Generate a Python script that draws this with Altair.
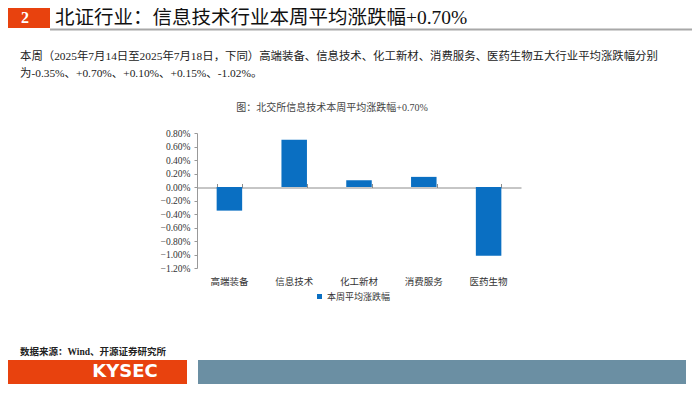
import altair as alt
import pandas as pd

# ---- data ----
categories = ["高端装备", "信息技术", "化工新材", "消费服务", "医药生物"]
values = [-0.35, 0.70, 0.10, 0.15, -1.02]
series_name = "本周平均涨跌幅"
y_ticks = [0.8, 0.6, 0.4, 0.2, 0.0, -0.2, -0.4, -0.6, -0.8, -1.0, -1.2]

header_num = "2"
header_title = "北证行业：信息技术行业本周平均涨跌幅+0.70%"
para_1 = "本周（2025年7月14日至2025年7月18日，下同）高端装备、信息技术、化工新材、消费服务、医药生物五大行业平均涨跌幅分别"
para_2 = "为-0.35%、+0.70%、+0.10%、+0.15%、-1.02%。"
chart_title = "图：北交所信息技术本周平均涨跌幅+0.70%"
source_text = "数据来源：Wind、开源证券研究所"
footer_text = "KYSEC"

df = pd.DataFrame({"cat": categories, "val": values, "series": [series_name] * len(categories)})

SERIF = "Liberation Serif, Noto Sans CJK SC"
CJK = "Noto Sans CJK SC"
BLUE = "#0A6FC2"
ORANGE = "#E8420E"

xscale = alt.Scale(domain=categories, paddingInner=0.606, paddingOuter=0.303)
yscale = alt.Scale(domain=[-1.2, 0.8], nice=False, zero=False)

bars = alt.Chart(df).mark_bar(size=25.5).encode(
    x=alt.X("cat:N", scale=xscale, sort=categories,
            axis=alt.Axis(title=None, orient="bottom", domain=False, ticks=False,
                          labelAngle=0, labelPadding=8, labelFont=CJK, labelFontSize=9.5,
                          labelColor="#333333")),
    y=alt.Y("val:Q", scale=yscale,
            axis=alt.Axis(title=None, values=y_ticks, grid=False, tickSize=3,
                          tickColor="#999999", domain=True, domainColor="#999999", domainWidth=1,
                          labelOverlap=False, labelFlush=False, labelBound=False,
                          labelExpr="format(datum.value, '.2f') + '%'",
                          labelFont="Liberation Serif", labelFontSize=9.5,
                          labelColor="#333333", labelPadding=4)),
    color=alt.Color("series:N", scale=alt.Scale(domain=[series_name], range=[BLUE]),
                    legend=alt.Legend(title=None, orient="none", legendX=118, legendY=159,
                                      symbolType="square", symbolSize=25, symbolStrokeWidth=0,
                                      labelFont=CJK, labelFontSize=9, labelColor="#333333",
                                      labelOffset=3)),
)

zero_axis = alt.Chart(df).mark_point(opacity=0).encode(
    x=alt.X("cat:N", scale=xscale, sort=categories,
            axis=alt.Axis(title=None, orient="top", offset=-54.5, labels=False,
                          tickBand="extent", tickSize=4, tickColor="#8C8C8C",
                          domainColor="#8C8C8C", domainWidth=1)),
    y=alt.value(0),
)

one = pd.DataFrame({"a": [0]})


def rect(x, x2, y, y2, color):
    return alt.Chart(one).mark_rect(color=color).encode(
        x=alt.value(x), x2=alt.value(x2), y=alt.value(y), y2=alt.value(y2))


def text(t, x, y, size, font, color="#222222", align="left", weight="normal"):
    return alt.Chart(one).mark_text(text=t, align=align, baseline="middle", fontSize=size,
                                    font=font, color=color, fontWeight=weight).encode(
        x=alt.value(x), y=alt.value(y))


header_box = rect(-189, -147, -125, -105, ORANGE)
header_line = alt.Chart(one).mark_rule(color="#A8A8A8", strokeWidth=2).encode(
    x=alt.value(-147), x2=alt.value(503), y=alt.value(-103.5))
header_n = text(header_num, -172, -115, 16, "Liberation Serif", color="white", align="center", weight="bold")
header_t = text(header_title, -142, -115, 19.5, SERIF, color="#111111")
p1 = text(para_1, -177, -76, 11.4, SERIF)
p2 = text(para_2, -177, -59, 11.4, SERIF)
ctitle = text(chart_title, 135, -25, 10, SERIF, color="#444444", align="center")
src = text(source_text, -177, 219, 9.5, SERIF, color="#222222", weight="bold")
foot_box = rect(-189, -10, 227, 251, ORANGE)
foot_blue = rect(1, 489, 227, 251, "#6B8FA3")
foot_t = text(footer_text, -72, 239, 18, "DejaVu Sans", color="white", align="center", weight="bold")

chart = alt.layer(
    header_box, header_line, header_n, header_t, p1, p2, ctitle,
    bars, zero_axis,
    src, foot_box, foot_blue, foot_t,
).resolve_axis(x="independent").properties(
    width=324, height=135,
    autosize=alt.AutoSizeParams(type="none"),
    padding={"left": 189, "top": 125, "right": 171, "bottom": 116},
    background="white",
).configure_view(stroke=None).configure_axis(labelOverlap=False)

chart.save("out.html", embed_options={"renderer": "svg", "actions": False})
